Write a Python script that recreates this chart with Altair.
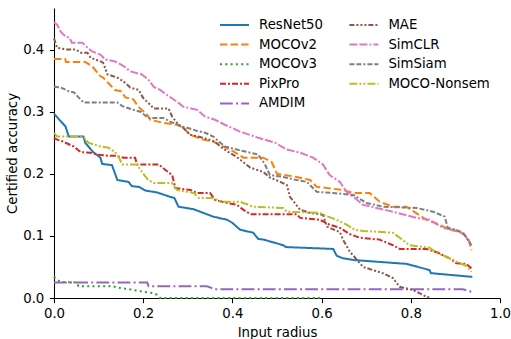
import altair as alt
import pandas as pd

# ---------------- data ----------------
series_names = ["ResNet50", "MOCOv2", "MOCOv3", "PixPro", "AMDIM",
                "MAE", "SimCLR", "SimSiam", "MOCO-Nonsem"]

resnet50_x = [0, 0.026, 0.033, 0.066, 0.07, 0.088, 0.104, 0.108, 0.13, 0.142, 0.167, 0.175, 0.19,
              0.205, 0.231, 0.26, 0.27, 0.279, 0.313, 0.335, 0.357, 0.388, 0.40, 0.417, 0.447, 0.458,
              0.47, 0.514, 0.52, 0.626, 0.634, 0.648, 0.674, 0.79, 0.842, 0.845, 0.938]
resnet50_y = [0.297, 0.276, 0.26, 0.26, 0.25, 0.235, 0.226, 0.216, 0.214, 0.19, 0.187, 0.18, 0.179,
              0.173, 0.17, 0.163, 0.161, 0.147, 0.143, 0.137, 0.131, 0.126, 0.121, 0.11, 0.105, 0.095,
              0.094, 0.085, 0.082, 0.079, 0.068, 0.064, 0.061, 0.055, 0.045, 0.04, 0.034]

mocov2_x = [0, 0.025, 0.027, 0.07, 0.086, 0.104, 0.11, 0.126, 0.137, 0.15, 0.16, 0.178, 0.189, 0.209,
            0.216, 0.245, 0.276, 0.29, 0.305, 0.334, 0.357, 0.402, 0.425, 0.469, 0.488, 0.5, 0.544,
            0.574, 0.589, 0.648, 0.671, 0.708, 0.73, 0.76, 0.79, 0.835, 0.865, 0.887, 0.91, 0.92,
            0.93, 0.936]
mocov2_y = [0.385, 0.385, 0.38, 0.38, 0.373, 0.357, 0.355, 0.343, 0.335, 0.333, 0.323, 0.32, 0.308,
            0.295, 0.287, 0.282, 0.279, 0.274, 0.263, 0.255, 0.252, 0.236, 0.226, 0.226, 0.219, 0.2,
            0.195, 0.19, 0.179, 0.174, 0.169, 0.169, 0.155, 0.147, 0.147, 0.126, 0.118, 0.11, 0.106,
            0.102, 0.094, 0.077]

mocov3_x = [0, 0.007, 0.015, 0.05, 0.055, 0.13, 0.149, 0.178, 0.2, 0.223, 0.231, 0.238, 0.6]
mocov3_y = [0.034, 0.029, 0.026, 0.025, 0.019, 0.019, 0.016, 0.013, 0.01, 0.008, 0.005, 0.0, 0.0]

pixpro_x = [0, 0.007, 0.02, 0.044, 0.06, 0.082, 0.097, 0.122, 0.137, 0.156, 0.182, 0.186, 0.235,
            0.25, 0.265, 0.272, 0.306, 0.321, 0.35, 0.361, 0.388, 0.41, 0.425, 0.44, 0.544, 0.552,
            0.596, 0.618, 0.641, 0.663, 0.686, 0.73, 0.76, 0.775, 0.835, 0.857, 0.887, 0.902, 0.924,
            0.936]
pixpro_y = [0.258, 0.255, 0.252, 0.244, 0.235, 0.234, 0.231, 0.229, 0.229, 0.226, 0.226, 0.215, 0.215,
            0.206, 0.198, 0.177, 0.174, 0.169, 0.169, 0.158, 0.153, 0.15, 0.142, 0.135, 0.135, 0.129,
            0.126, 0.118, 0.113, 0.103, 0.097, 0.094, 0.085, 0.079, 0.079, 0.074, 0.064, 0.056, 0.055,
            0.048]

amdim_x = [0, 0.209, 0.212, 0.343, 0.35, 0.361, 0.917, 0.936]
amdim_y = [0.025, 0.025, 0.019, 0.019, 0.017, 0.014, 0.014, 0.01]

mae_x = [0, 0.007, 0.03, 0.048, 0.06, 0.075, 0.082, 0.104, 0.11, 0.12, 0.142, 0.157, 0.171, 0.19,
         0.2, 0.216, 0.224, 0.257, 0.265, 0.279, 0.29, 0.305, 0.334, 0.36, 0.38, 0.41, 0.44, 0.469,
         0.484, 0.507, 0.522, 0.529, 0.552, 0.574, 0.603, 0.612, 0.641, 0.648, 0.663, 0.693, 0.737,
         0.76, 0.775, 0.805, 0.835, 0.845]
mae_y = [0.418, 0.403, 0.4, 0.4, 0.395, 0.395, 0.387, 0.381, 0.379, 0.36, 0.355, 0.348, 0.339, 0.335,
         0.322, 0.311, 0.305, 0.305, 0.292, 0.279, 0.274, 0.263, 0.258, 0.252, 0.24, 0.227, 0.21, 0.203,
         0.194, 0.187, 0.182, 0.163, 0.142, 0.137, 0.134, 0.115, 0.106, 0.094, 0.075, 0.05, 0.04,
         0.032, 0.018, 0.013, 0.002, 0.0]

simclr_x = [0, 0.007, 0.015, 0.026, 0.035, 0.04, 0.064, 0.075, 0.086, 0.104, 0.115, 0.137, 0.157,
            0.171, 0.197, 0.211, 0.224, 0.238, 0.253, 0.276, 0.29, 0.321, 0.339, 0.361, 0.383, 0.417,
            0.458, 0.496, 0.522, 0.552, 0.581, 0.603, 0.618, 0.641, 0.656, 0.671, 0.693, 0.76, 0.813,
            0.842, 0.872, 0.894, 0.917, 0.936]
simclr_y = [0.444, 0.44, 0.429, 0.421, 0.419, 0.411, 0.411, 0.403, 0.397, 0.392, 0.384, 0.381, 0.373,
            0.365, 0.36, 0.352, 0.34, 0.335, 0.327, 0.316, 0.308, 0.303, 0.292, 0.287, 0.279, 0.268,
            0.258, 0.25, 0.239, 0.234, 0.226, 0.215, 0.198, 0.187, 0.171, 0.163, 0.15, 0.139, 0.129,
            0.126, 0.113, 0.11, 0.106, 0.085]

simsiam_x = [0, 0.015, 0.033, 0.045, 0.055, 0.066, 0.142, 0.153, 0.178, 0.194, 0.211, 0.245, 0.26,
             0.29, 0.321, 0.339, 0.357, 0.383, 0.41, 0.458, 0.473, 0.484, 0.514, 0.544, 0.567, 0.589,
             0.626, 0.671, 0.701, 0.738, 0.813, 0.85, 0.876, 0.883, 0.902, 0.92, 0.936]
simsiam_y = [0.34, 0.339, 0.333, 0.331, 0.323, 0.315, 0.315, 0.309, 0.303, 0.3, 0.29, 0.29, 0.284,
             0.276, 0.269, 0.266, 0.26, 0.244, 0.239, 0.231, 0.215, 0.198, 0.195, 0.19, 0.187, 0.171,
             0.169, 0.166, 0.153, 0.147, 0.145, 0.139, 0.131, 0.113, 0.11, 0.102, 0.085]

nonsem_x = [0, 0.007, 0.066, 0.077, 0.104, 0.122, 0.137, 0.145, 0.153, 0.186, 0.197, 0.211, 0.224,
            0.264, 0.276, 0.313, 0.325, 0.358, 0.373, 0.417, 0.447, 0.514, 0.522, 0.597, 0.603, 0.634,
            0.656, 0.674, 0.693, 0.76, 0.779, 0.797, 0.842, 0.857, 0.887, 0.91, 0.924, 0.936]
nonsem_y = [0.266, 0.26, 0.26, 0.25, 0.244, 0.242, 0.235, 0.227, 0.215, 0.215, 0.203, 0.19, 0.185,
            0.185, 0.174, 0.169, 0.161, 0.161, 0.155, 0.155, 0.147, 0.145, 0.139, 0.137, 0.134, 0.126,
            0.118, 0.11, 0.108, 0.105, 0.095, 0.085, 0.081, 0.073, 0.064, 0.056, 0.052, 0.042]

series_x = [resnet50_x, mocov2_x, mocov3_x, pixpro_x, amdim_x, mae_x, simclr_x, simsiam_x, nonsem_x]
series_y = [resnet50_y, mocov2_y, mocov3_y, pixpro_y, amdim_y, mae_y, simclr_y, simsiam_y, nonsem_y]

x_ticks = [0.0, 0.2, 0.4, 0.6, 0.8, 1.0]
y_ticks = [0.0, 0.1, 0.2, 0.3, 0.4]

# ---------------- styles ----------------
colors = {"ResNet50": "#1f77b4", "MOCOv2": "#ff7f0e", "MOCOv3": "#2ca02c", "PixPro": "#d62728",
          "AMDIM": "#9467bd", "MAE": "#8c564b", "SimCLR": "#e377c2", "SimSiam": "#7f7f7f",
          "MOCO-Nonsem": "#bcbd22"}
dashes = {"ResNet50": [1, 0], "MOCOv2": [7.4, 3.2], "MOCOv3": [2, 3.3], "PixPro": [6, 2, 2, 2],
          "AMDIM": [12.8, 3.2, 2, 3.2], "MAE": [5, 2, 2, 2, 2, 2, 2, 2],
          "SimCLR": [8, 2, 8, 2, 2, 2], "SimSiam": [5, 2, 5, 2, 2, 2],
          "MOCO-Nonsem": [8, 2, 2, 2, 2, 2]}

# vega fills legend columns top-to-bottom, like matplotlib's ncol=2
legend_order = series_names

rows = []
for s, xs, ys in zip(series_names, series_x, series_y):
    for i, (xv, yv) in enumerate(zip(xs, ys)):
        rows.append({"series": s, "radius": xv, "acc": yv, "idx": i})
df = pd.DataFrame(rows)

FONT = "DejaVu Sans"
FS = 13.3

legend = alt.Legend(
    orient="none", legendX=165, legendY=9.5, columns=2, padding=0,
    symbolType="stroke", symbolSize=841, symbolStrokeWidth=2, clipHeight=15,
    rowPadding=4.6, columnPadding=24.4, labelOffset=9,
    labelFont=FONT, labelFontSize=FS, labelColor="#000000",
)

chart = alt.Chart(df).mark_line(strokeWidth=2).encode(
    x=alt.X("radius:Q", scale=alt.Scale(domain=[0, 1], nice=False, zero=False),
            axis=alt.Axis(values=x_ticks, format=".1f", title="Input radius",
                          titleX=223, titleY=38, titleBaseline="alphabetic", titleAlign="center",
                          labelFlush=False, labelOverlap=False, labelPadding=4.2)),
    y=alt.Y("acc:Q", scale=alt.Scale(domain=[0, 0.467], nice=False),
            axis=alt.Axis(values=y_ticks, format=".1f", title="Certified accuracy",
                          titleX=-38, titleY=145, titleAngle=270, titleBaseline="alphabetic",
                          titleAlign="center", labelOverlap=False, labelPadding=5.5)),
    color=alt.Color("series:N", title=None,
                    scale=alt.Scale(domain=legend_order, range=[colors[s] for s in legend_order]),
                    legend=legend),
    strokeDash=alt.StrokeDash("series:N", title=None,
                              scale=alt.Scale(domain=legend_order,
                                              range=[dashes[s] for s in legend_order]),
                              legend=legend),
    order=alt.Order("idx:Q"),
).properties(
    width=446, height=290,
    padding={"left": 54, "top": 8, "right": 11, "bottom": 41},
    autosize=alt.AutoSizeParams(type="none"),
    background="white",
).configure_view(
    stroke="transparent"
).configure_axis(
    grid=False, domainColor="#000000", domainWidth=1.07, tickColor="#000000", tickWidth=1.07,
    tickSize=4.67, labelFont=FONT, labelFontSize=FS, labelColor="#000000",
    titleFont=FONT, titleFontSize=FS, titleFontWeight="normal", titleColor="#000000",
)

chart.save("out.html", embed_options={"renderer": "svg", "actions": False})
